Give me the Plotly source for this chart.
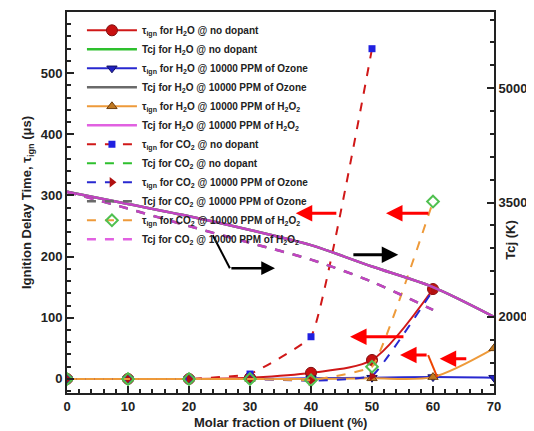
import plotly.graph_objects as go

# ---------------- data ----------------
x_all = [0, 10, 20, 30, 40, 50, 60, 70]
x_to60 = [0, 10, 20, 30, 40, 50, 60]
x_to50 = [0, 10, 20, 30, 40, 50]

# ignition delay time (us), left axis
tau_h2o_none = [0, 0, 0, 2, 10, 31, 147]
tau_h2o_ozone = [0, 0, 0, 0, 1, 2, 3, 2]
tau_h2o_h2o2 = [0, 0, 0, 0, 0, 1, 3, 50]
tau_co2_none = [0, 0, 0, 8, 69, 540]
tau_co2_ozone = [0, 0, 0, 0, -3, 5, 145]
tau_co2_h2o2 = [0, 0, 0, 0, -2, 20, 290]

# CJ temperature (K), right axis
tcj_h2o_none = [3640, 3480, 3320, 3140, 2940, 2660, 2390, 2000]
tcj_h2o_ozone = [3640, 3480, 3320, 3140, 2940, 2660, 2390, 2000]
tcj_h2o_h2o2 = [3640, 3480, 3320, 3140, 2940, 2660, 2390, 2000]
tcj_co2_none = [3640, 3420, 3190, 2970, 2750, 2460, 2090]
tcj_co2_ozone = [3640, 3420, 3190, 2970, 2750, 2460, 2090]
tcj_co2_h2o2 = [3640, 3420, 3190, 2970, 2750, 2460, 2090]

TAU = "τ<sub>ign</sub>"
H2O = "H<sub>2</sub>O"
CO2 = "CO<sub>2</sub>"
H2O2 = "H<sub>2</sub>O<sub>2</sub>"

RED = "#d01818"
GREEN = "#2ec02e"
BLUE = "#2828d0"
GRAY = "#6a6a6a"
ORANGE = "#ee9a3a"
MAGENTA = "#d93ad9"

fig = go.Figure()

def add(x, y, name, color, dash="solid", marker=None, axis="y", width=2, opacity=1.0,
        shape="spline", smoothing=0.8):
    kw = dict(x=x, y=y, name=name, yaxis=axis, opacity=opacity,
              line=dict(color=color, width=width, dash=dash, shape=shape, smoothing=smoothing))
    if marker:
        kw["mode"] = "lines+markers"
        kw["marker"] = marker
    else:
        kw["mode"] = "lines"
    fig.add_trace(go.Scatter(**kw))

add(x_to60, tau_h2o_none, f"{TAU} for {H2O} @ no dopant", RED,
    marker=dict(symbol="circle", size=11, color="#c81010", line=dict(color="#801010", width=1)))
add(x_all, tcj_h2o_none, f"Tcj for {H2O} @ no dopant", GREEN, axis="y2", width=2.5)
add(x_all, tau_h2o_ozone, f"{TAU} for {H2O} @ 10000 PPM of Ozone", BLUE,
    marker=dict(symbol="triangle-down", size=9, color="#2020c0", line=dict(color="#101060", width=1)))
add(x_all, tcj_h2o_ozone, f"Tcj for {H2O} @ 10000 PPM of Ozone", GRAY, axis="y2", width=2.5)
add(x_all, tau_h2o_h2o2, f"{TAU} for {H2O} @ 10000 PPM of {H2O2}", ORANGE,
    marker=dict(symbol="triangle-up", size=9, color="#c07820", line=dict(color="#704010", width=1)))
add(x_all, tcj_h2o_h2o2, f"Tcj for {H2O} @ 10000 PPM of {H2O2}", MAGENTA, axis="y2", width=2.5,
    opacity=0.8)
add(x_to50, tau_co2_none, f"{TAU} for {CO2} @ no dopant", RED, dash="dash", smoothing=0.3,
    marker=dict(symbol="square", size=7, color="#2020e0"))
add(x_to60, tcj_co2_none, f"Tcj for {CO2} @ no dopant", GREEN, dash="dash", axis="y2", width=2)
add(x_to60, tau_co2_ozone, f"{TAU} for {CO2} @ 10000 PPM of Ozone", BLUE, dash="dash",
    smoothing=0.3, marker=dict(symbol="triangle-right", size=9, color="#b01010"))
add(x_to60, tcj_co2_ozone, f"Tcj for {CO2} @ 10000 PPM of Ozone", GRAY, dash="dash", axis="y2",
    width=2.5)
add(x_to60, tau_co2_h2o2, f"{TAU} for {CO2} @ 10000 PPM of {H2O2}", ORANGE, dash="dash",
    smoothing=0.3, marker=dict(symbol="diamond-open", size=9, color="#50c050", line=dict(width=2)))
add(x_to60, tcj_co2_h2o2, f"Tcj for {CO2} @ 10000 PPM of {H2O2}", MAGENTA, dash="dash", axis="y2",
    width=2.5, opacity=0.8)

# ---------------- annotation arrows ----------------
def arrow(head, tail, color, width=3):
    fig.add_annotation(x=head[0], y=head[1], ax=tail[0], ay=tail[1],
                       xref="x", yref="y", axref="x", ayref="y",
                       text="", showarrow=True, arrowhead=2, arrowsize=1.1,
                       arrowwidth=width, arrowcolor=color)

arrow((37.5, 271), (44.4, 271), "#ff0000")
arrow((52.3, 271), (59.5, 271), "#ff0000")
arrow((54.3, 203), (46.7, 203), "#000000")
arrow((34.1, 181), (26.7, 181), "#000000", width=2.5)
fig.add_shape(type="line", x0=23.9, y0=235, x1=26.7, y1=181, xref="x", yref="y",
              line=dict(color="#000000", width=2))
arrow((46.4, 69), (55.4, 69), "#ff0000")
arrow((54.6, 39), (59.2, 39), "#ff0000")
fig.add_shape(type="line", x0=59.2, y0=39, x1=60.7, y1=3, xref="x", yref="y",
              line=dict(color="#ee4400", width=2))
arrow((61.1, 33), (65.7, 33), "#ff0000")

TITLE_FONT = dict(family="Liberation Sans, Arial", size=13, color="#222222")
# right axis title and x axis title as text
fig.add_annotation(x=1.06, y=0.40, xref="paper", yref="paper", text="<b>Tcj (K)</b>",
                   textangle=-90, showarrow=False, font=TITLE_FONT)
fig.add_annotation(x=0.5, y=0, xref="paper", yref="paper", yshift=-29, yanchor="middle",
                   text="<b>Molar fraction of Diluent (%)</b>", showarrow=False, font=TITLE_FONT)

FONT = dict(family="Liberation Sans, Arial", size=13, color="#222222", weight="bold")
axis_common = dict(showline=True, linecolor="#222222", linewidth=2, ticks="inside",
                   tickcolor="#222222", tickwidth=2, ticklen=7, showgrid=False, zeroline=False,
                   tickfont=FONT, automargin=False)

# the page body adds an 8px offset, so the figure is sized to the visible window
fig.update_layout(
    width=526, height=423,
    margin=dict(l=59, r=40, t=4, b=38),
    paper_bgcolor="white", plot_bgcolor="white",
    font=dict(family="Liberation Sans, Arial", color="#222222"),
    showlegend=True,
    legend=dict(x=0.035, y=0.99, xanchor="left", yanchor="top", bgcolor="rgba(255,255,255,0)",
                font=dict(family="Liberation Sans, Arial", size=10, color="#222222", weight="bold"),
                itemwidth=50, tracegroupgap=0),
    xaxis=dict(range=[0, 70], dtick=10, mirror=True,
               minor=dict(dtick=2, ticks="inside", ticklen=4, tickcolor="#222222"),
               **axis_common),
    yaxis=dict(range=[-23, 600], dtick=100, mirror=False,
               minor=dict(dtick=20, ticks="inside", ticklen=4, tickcolor="#222222"),
               title=dict(text="<b>Ignition Delay Time, τ<sub>ign</sub> (μs)</b>", standoff=6,
                          font=TITLE_FONT),
               **axis_common),
    yaxis2=dict(range=[1000, 6000], overlaying="y", side="right", tick0=2000, dtick=1500,
                minor=dict(dtick=300, tick0=2000, ticks="inside", ticklen=4, tickcolor="#222222"),
                **axis_common),
)

fig.write_html("out.html")
